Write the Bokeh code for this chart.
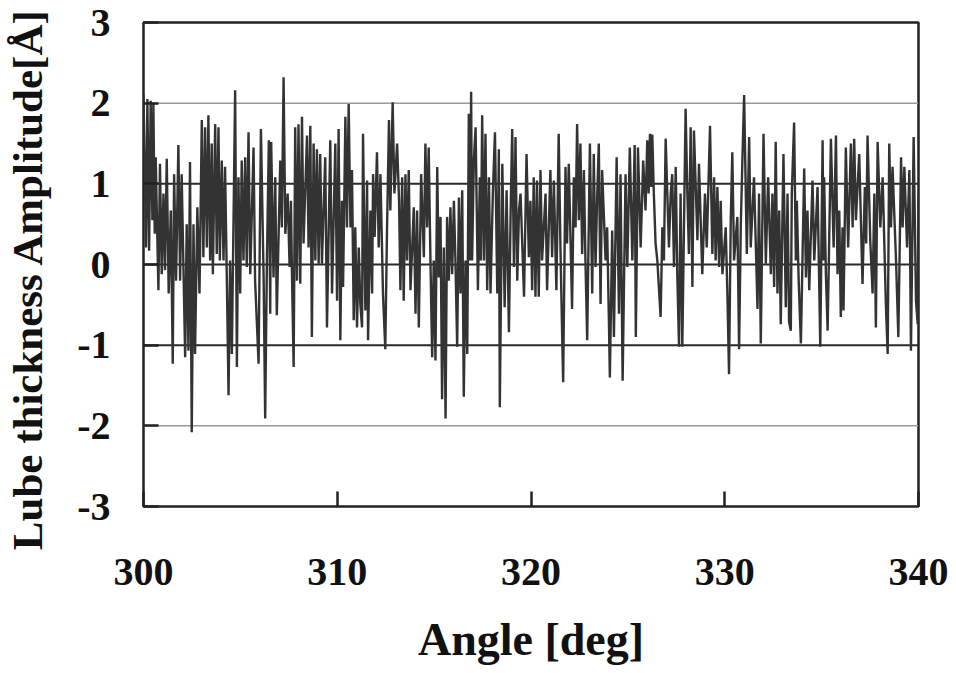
from bokeh.plotting import figure
from bokeh.layouts import row
from bokeh.models import Span, FixedTicker, CustomJSTickFormatter
from bokeh.embed import file_html
from bokeh.resources import INLINE

# ---- data (angle in deg, amplitude in Å) ----
angle_1 = [300.00, 300.13, 300.20, 300.29, 300.37, 300.46, 300.51, 300.58, 300.63, 300.77,
           300.85, 300.94, 301.03, 301.11, 301.20, 301.30, 301.41, 301.51, 301.58, 301.68,
           301.80, 301.89, 301.97, 302.15, 302.23, 302.32, 302.40, 302.49, 302.58, 302.66,
           302.78, 302.89, 303.01, 303.09, 303.18, 303.27, 303.35, 303.44, 303.52, 303.58,
           303.70, 303.78, 303.87, 303.94, 304.04, 304.13, 304.21, 304.30, 304.39, 304.47,
           304.56, 304.73, 304.82, 304.90, 304.99, 305.07, 305.16, 305.25, 305.33, 305.42,
           305.51, 305.68, 305.76, 305.94, 306.06, 306.20, 306.28, 306.37, 306.47]
amp_1 = [2.10, 0.21, 2.05, 0.17, 2.03, 0.55, 1.99, 0.38, 1.33, -0.32,
         1.25, -0.12, 0.88, -0.07, 1.31, -0.36, 0.67, -1.23, 1.12, -0.20,
         1.48, -0.20, 1.12, -1.15, 0.50, -1.07, 1.27, -2.08, 0.50, -1.11,
         0.71, -0.36, 1.79, 0.09, 1.70, 0.21, 1.85, 0.05, 1.50, -0.12,
         1.74, 0.13, 1.70, 0.05, 1.29, 0.05, 1.21, -0.16, -1.62, 0.05,
         -1.11, 2.16, -1.27, 1.08, -0.36, 1.29, 0.05, 1.33, -0.03, 1.64,
         -0.12, 1.45, -0.20, -1.23, 1.68, -0.16, -1.91, 0.05, 1.54]

angle_2 = [306.54, 306.59, 306.71, 306.80, 306.88, 307.06, 307.14, 307.23, 307.32, 307.44,
           307.54, 307.61, 307.66, 307.75, 307.83, 307.92, 308.00, 308.09, 308.18, 308.26,
           308.44, 308.52, 308.61, 308.69, 308.78, 308.87, 308.95, 309.04, 309.12, 309.21,
           309.38, 309.47, 309.64, 309.73, 309.90, 309.99, 310.07, 310.16, 310.24, 310.30,
           310.42, 310.50, 310.59, 310.68, 310.76, 310.85, 310.93, 311.02, 311.11, 311.19,
           311.28, 311.33, 311.45, 311.54, 311.59, 311.71, 311.80, 311.85, 311.93, 312.05,
           312.14, 312.23, 312.36, 312.48, 312.57, 312.67, 312.74, 312.86, 312.95, 313.09,
           313.19]
amp_2 = [-0.61, 1.52, -0.16, 1.08, -0.63, 1.29, 0.46, 2.32, 0.38, 0.88,
         -0.03, 0.79, -0.07, -1.27, 1.70, -0.20, 1.74, -0.24, 1.83, 0.26,
         1.60, 0.21, 1.72, -0.90, 1.50, 0.05, 1.43, 0.01, 1.37, 0.01,
         1.33, -0.78, 1.54, -0.36, 1.50, -0.45, 1.68, -0.94, 0.79, -0.28,
         1.83, 0.46, 1.99, 0.46, 1.17, -0.69, 0.46, -0.78, 0.21, -0.49,
         -0.78, 1.62, -0.57, 1.04, -0.94, 0.67, -0.36, 1.12, 0.34, 1.39,
         0.21, 1.12, -0.36, -1.05, 0.46, 1.79, 0.67, 2.01, 0.88, 1.50,
         0.79]

angle_3 = [313.26, 313.35, 313.43, 313.52, 313.60, 313.69, 313.78, 313.95, 314.04, 314.12,
           314.21, 314.33, 314.47, 314.55, 314.64, 314.72, 314.81, 314.90, 314.98, 315.07,
           315.16, 315.24, 315.33, 315.41, 315.50, 315.59, 315.67, 315.76, 315.84, 315.93,
           316.02, 316.10, 316.19, 316.28, 316.36, 316.45, 316.53, 316.62, 316.71, 316.79,
           316.86, 316.91, 316.96, 317.05, 317.14, 317.26, 317.36, 317.41, 317.48, 317.57,
           317.65, 317.74, 317.83, 317.91, 318.03, 318.14, 318.26, 318.34, 318.39, 318.52,
           318.64, 318.74, 318.86, 318.95, 319.03, 319.12, 319.20, 319.29, 319.38, 319.46,
           319.64, 319.77, 319.89]
amp_3 = [-0.32, 1.08, -0.45, 1.12, 0.05, 1.17, -0.32, 0.71, -0.61, 0.67,
         -0.78, 1.12, 0.09, 1.50, 0.46, 1.45, 0.05, -1.15, 0.05, -1.19,
         1.21, -0.16, 0.59, -1.67, 0.21, -1.91, 0.59, -0.20, 0.71, -0.12,
         0.79, 0.05, -1.02, 0.83, -0.36, 0.92, -1.64, 0.05, -1.11, 1.87,
         0.05, 2.14, 0.05, 1.29, 1.70, -0.32, 1.08, 0.05, 1.85, 0.05,
         1.62, -0.32, 1.08, -0.36, 0.88, 1.64, -0.36, 1.43, -1.77, 1.25,
         -0.53, 0.92, -0.84, 0.67, 1.68, -0.03, 1.58, -0.20, 0.67, 0.88,
         -0.40, 1.37, 0.09]

angle_4 = [319.97, 320.06, 320.14, 320.23, 320.31, 320.40, 320.49, 320.57, 320.66, 320.75,
           320.83, 321.00, 321.09, 321.18, 321.31, 321.43, 321.52, 321.61, 321.66, 321.78,
           321.86, 321.95, 322.04, 322.12, 322.21, 322.30, 322.38, 322.47, 322.55, 322.64,
           322.73, 322.81, 322.90, 323.04, 323.16, 323.24, 323.33, 323.42, 323.50, 323.59,
           323.67, 323.85, 323.93, 324.02, 324.07, 324.19, 324.28, 324.42, 324.54, 324.62,
           324.73, 324.88, 324.97, 325.10, 325.23, 325.35, 325.41, 325.52, 325.66, 325.79,
           325.91, 326.00, 326.07, 326.14, 326.21, 326.26, 326.34, 326.43, 326.52, 326.60]
amp_4 = [0.79, -0.32, 1.08, -0.40, 1.04, -0.40, 1.17, 0.05, 0.46, 0.88,
         -0.32, 1.17, 0.09, 1.04, -0.32, 1.62, 0.21, -0.90, -1.46, 1.21,
         0.26, 1.25, 0.30, -0.55, 1.08, 0.46, 1.74, 0.55, 1.50, 0.13,
         1.17, 0.05, -0.94, 1.50, -0.36, 1.37, -0.03, 0.88, 1.50, -0.49,
         1.17, 0.05, 0.46, -0.69, -1.40, 0.42, -0.90, 1.33, -0.61, 1.12,
         -1.44, 1.12, -0.03, 1.45, 0.05, 1.48, -0.90, 1.45, 0.21, 1.29,
         0.67, 1.54, 0.88, 1.62, 0.96, 1.61, 0.88, 0.26, 0.05, -0.28]

angle_5 = [326.69, 326.78, 326.86, 326.95, 327.12, 327.21, 327.29, 327.38, 327.47, 327.55,
           327.64, 327.72, 327.81, 327.98, 328.07, 328.15, 328.24, 328.33, 328.41, 328.59,
           328.67, 328.84, 328.98, 329.07, 329.24, 329.36, 329.45, 329.53, 329.62, 329.71,
           329.79, 329.88, 330.05, 330.14, 330.22, 330.31, 330.39, 330.48, 330.65, 330.74,
           330.83, 330.91, 331.00, 331.14, 331.26, 331.34, 331.51, 331.69, 331.77, 331.86,
           332.00, 332.12, 332.24, 332.38, 332.46, 332.55, 332.63, 332.72, 332.81, 332.89,
           333.03, 333.15, 333.24, 333.32]
amp_5 = [-0.65, 0.46, 0.05, 1.56, 0.21, 0.88, 1.12, -0.03, 1.21, -0.12,
         -1.02, 0.88, -1.02, 1.93, 0.88, 0.13, 1.70, -0.28, 1.66, 0.30,
         1.25, -0.12, 0.88, 0.21, 1.72, 0.13, 1.08, 0.05, 0.96, -0.03,
         0.79, -0.12, 0.46, -0.40, -1.36, 0.55, 1.39, 0.05, 0.59, -1.05,
         0.50, 1.29, 2.10, 0.13, 1.58, 0.21, 1.08, -0.55, 0.88, -0.98,
         1.62, 0.01, 1.08, -0.12, 0.88, -0.28, 1.52, -0.36, 0.67, -0.74,
         1.37, -0.53, 0.88, -0.71]

angle_6 = [333.41, 333.46, 333.58, 333.67, 333.72, 333.81, 333.93, 334.10, 334.19, 334.27,
           334.36, 334.53, 334.62, 334.79, 334.93, 335.05, 335.10, 335.13, 335.22, 335.31,
           335.48, 335.62, 335.74, 335.82, 335.91, 335.99, 336.08, 336.13, 336.25, 336.37,
           336.51, 336.60, 336.68, 336.77, 336.94, 337.11, 337.23, 337.30, 337.37, 337.51,
           337.63, 337.72, 337.80, 337.89, 338.03, 338.15, 338.32, 338.41, 338.49, 338.58,
           338.66, 338.84, 338.96, 339.10, 339.18, 339.27, 339.41, 339.53, 339.61, 339.75,
           339.87, 339.96, 340.00]
amp_6 = [-0.82, 0.88, 1.76, 0.05, 0.79, -0.16, -0.98, 1.19, -0.16, 0.67,
         -0.32, 1.04, 0.05, 0.96, -1.02, 1.54, 0.05, 1.08, -0.12, -0.82,
         1.56, 0.21, 1.60, -0.12, 0.67, -0.65, 0.46, -0.57, 1.45, 0.21,
         1.50, 0.46, 1.56, 0.55, 1.37, -0.24, 0.96, 0.26, 1.60, 0.30,
         -0.36, 0.88, -0.78, 1.52, 0.46, 1.08, -0.53, -1.11, 1.50, 0.46,
         1.21, 0.05, -0.90, 1.33, 0.46, 1.21, 0.21, 1.17, -1.07, 1.58,
         -0.45, -0.74, 0.88]

x_ticks = [300, 310, 320, 330, 340]
y_ticks = [-3, -2, -1, 0, 1, 2, 3]
x_title = "Angle [deg]"
y_title = "Lube thickness Amplitude[Å]"

angles = angle_1 + angle_2 + angle_3 + angle_4 + angle_5 + angle_6
amps = amp_1 + amp_2 + amp_3 + amp_4 + amp_5 + amp_6

FONT = "Liberation Serif"
TITLE_W = 70  # width of the strip that holds the vertical axis title

# ---- strip holding the vertical axis title (an axis with no ticks) ----
t = figure(width=TITLE_W, height=673, x_range=(0, 1), y_range=(0, 1),
           output_backend="svg", toolbar_location=None,
           x_axis_location=None, y_axis_location="left",
           min_border_left=19, min_border_right=0,
           min_border_top=10, min_border_bottom=126)
t.frame_align = False
t.grid.visible = False
t.outline_line_color = None
t.background_fill_color = "white"
t.border_fill_color = "white"
ty = t.yaxis[0]
ty.ticker = FixedTicker(ticks=[])
ty.axis_line_color = None
ty.major_tick_in = 0
ty.major_tick_out = 0
ty.minor_tick_line_color = None
ty.major_label_standoff = 0
ty.axis_label = y_title
ty.axis_label_standoff = 0
ty.axis_label_text_font = FONT
ty.axis_label_text_font_style = "bold"
ty.axis_label_text_font_size = "43px"
ty.axis_label_text_color = "#111111"

# ---- main chart ----
p = figure(width=956 - TITLE_W, height=673, x_range=(300, 340), y_range=(-3, 3),
           output_backend="svg", toolbar_location=None,
           min_border_left=143 - TITLE_W, min_border_right=38, min_border_top=22,
           min_border_bottom=167)
p.frame_align = False
p.background_fill_color = "white"
p.border_fill_color = "white"
p.outline_line_color = "#222222"
p.outline_line_width = 2.5

p.xgrid.visible = False
p.ygrid.visible = False

# horizontal grid lines
for v in y_ticks[1:-1]:
    dark = abs(v) <= 1
    p.add_layout(Span(location=v, dimension="width",
                      line_color="#2a2a2a" if dark else "#9a9a9a",
                      line_width=2 if dark else 1.5, level="underlay"))

p.line(angles, amps, line_color="#333333", line_width=2.4)

fmt = CustomJSTickFormatter(code="return String(tick);")
for ax in (p.xaxis[0], p.yaxis[0]):
    ax.formatter = fmt
    ax.major_label_text_font = FONT
    ax.major_label_text_font_style = "bold"
    ax.major_label_text_font_size = "40px"
    ax.major_label_text_color = "#111111"
    ax.axis_label_text_font = FONT
    ax.axis_label_text_font_style = "bold"
    ax.axis_label_text_color = "#111111"
    ax.axis_line_color = None
    ax.major_tick_in = 15
    ax.major_tick_out = 0
    ax.major_tick_line_color = "#222222"
    ax.major_tick_line_width = 2.5
    ax.minor_tick_line_color = None

p.xaxis[0].ticker = FixedTicker(ticks=x_ticks)
p.yaxis[0].ticker = FixedTicker(ticks=y_ticks)
p.xaxis[0].axis_label = x_title
p.xaxis[0].axis_label_text_font_size = "46px"
p.xaxis[0].major_label_standoff = 52
p.xaxis[0].axis_label_standoff = 26
p.yaxis[0].major_label_standoff = 33

layout = row(t, p, spacing=0)
open("out.html", "w").write(file_html(layout, INLINE))
